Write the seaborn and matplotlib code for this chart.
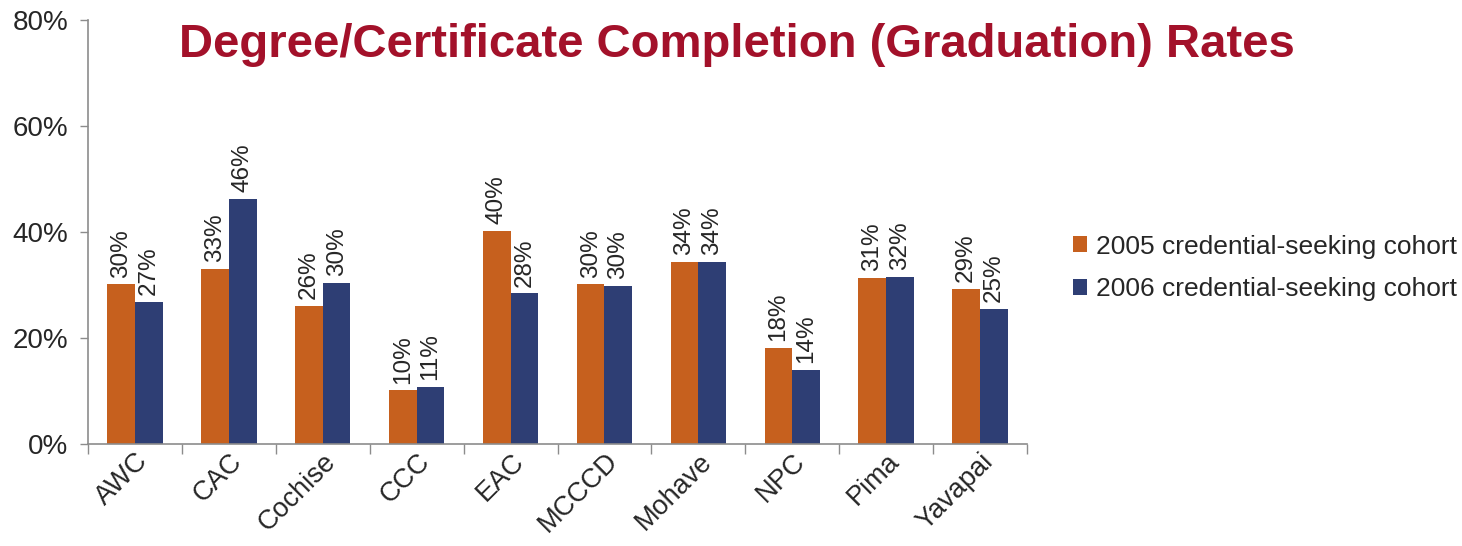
import matplotlib
matplotlib.use("Agg")
import matplotlib.pyplot as plt
import seaborn as sns
import pandas as pd
from matplotlib.ticker import FuncFormatter, FixedLocator

colleges = ["AWC", "CAC", "Cochise", "CCC", "EAC", "MCCCD", "Mohave", "NPC", "Pima", "Yavapai"]
cohort_2005 = [30.1, 33.1, 26.1, 10.1, 40.2, 30.1, 34.4, 18.2, 31.3, 29.2]
cohort_2006 = [26.8, 46.2, 30.4, 10.7, 28.4, 29.8, 34.4, 14.0, 31.6, 25.4]
series_names = ["2005 credential-seeking cohort", "2006 credential-seeking cohort"]
y_ticks = [0, 20, 40, 60, 80]
title_text = "Degree/Certificate Completion (Graduation) Rates"

sns.set_style("white")
plt.rcParams["font.family"] = ["Liberation Sans", "DejaVu Sans"]

df = pd.DataFrame({
    "college": colleges * 2,
    "rate": cohort_2005 + cohort_2006,
    "cohort": [series_names[0]] * len(colleges) + [series_names[1]] * len(colleges),
})

fig = plt.figure(figsize=(14.62, 5.46), dpi=100)
ax = fig.add_axes([88 / 1462, 102 / 546, (1027 - 88) / 1462, (444 - 20) / 546])

palette = {series_names[0]: "#C6601E", series_names[1]: "#2E3E74"}
sns.barplot(data=df, x="college", y="rate", hue="cohort", palette=palette,
            width=0.59, gap=0, saturation=1, linewidth=0, ax=ax, legend=True)

for container in ax.containers:
    ax.bar_label(container, labels=[f"{v:.0f}%" for v in container.datavalues],
                 rotation=90, padding=5, fontsize=17.5, color="#262626")

ax.set_xlim(-0.5, len(colleges) - 0.5)
ax.set_ylim(0, 80)
ax.set_yticks(y_ticks)
ax.yaxis.set_major_formatter(FuncFormatter(lambda v, p: f"{v:.0f}%"))
ax.set_xlabel("")
ax.set_ylabel("")

ax.set_xticks(range(len(colleges)))
ax.set_xticklabels(colleges, rotation=45, ha="right", rotation_mode="anchor", fontsize=19.5, color="#262626")
ax.tick_params(axis="x", which="major", length=0, pad=3)
ax.xaxis.set_minor_locator(FixedLocator([i - 0.5 for i in range(len(colleges) + 1)]))
ax.tick_params(axis="x", which="minor", length=7, width=1, color="#8c8c8c", direction="out", bottom=True)
ax.tick_params(axis="y", which="major", length=6, width=1, color="#8c8c8c", direction="out",
               labelsize=20, labelcolor="#262626", left=True, pad=8)

for s in ["top", "right"]:
    ax.spines[s].set_visible(False)
for s in ["left", "bottom"]:
    ax.spines[s].set_color("#8c8c8c")
    ax.spines[s].set_linewidth(1.2)

handles, labels = ax.get_legend_handles_labels()
ax.get_legend().remove()
fig.legend(handles, labels, loc="center left", bbox_to_anchor=(1062 / 1462, 1 - 268 / 546),
           frameon=False, fontsize=19, handlelength=0.55, handleheight=0.55,
           handletextpad=0.35, labelspacing=0.7, borderaxespad=0)

fig.text(737 / 1462, 1 - 45 / 546, title_text, ha="center", va="center",
         fontsize=34, fontweight="bold", color="#A3112A")

fig.savefig("out.png", dpi=100)
